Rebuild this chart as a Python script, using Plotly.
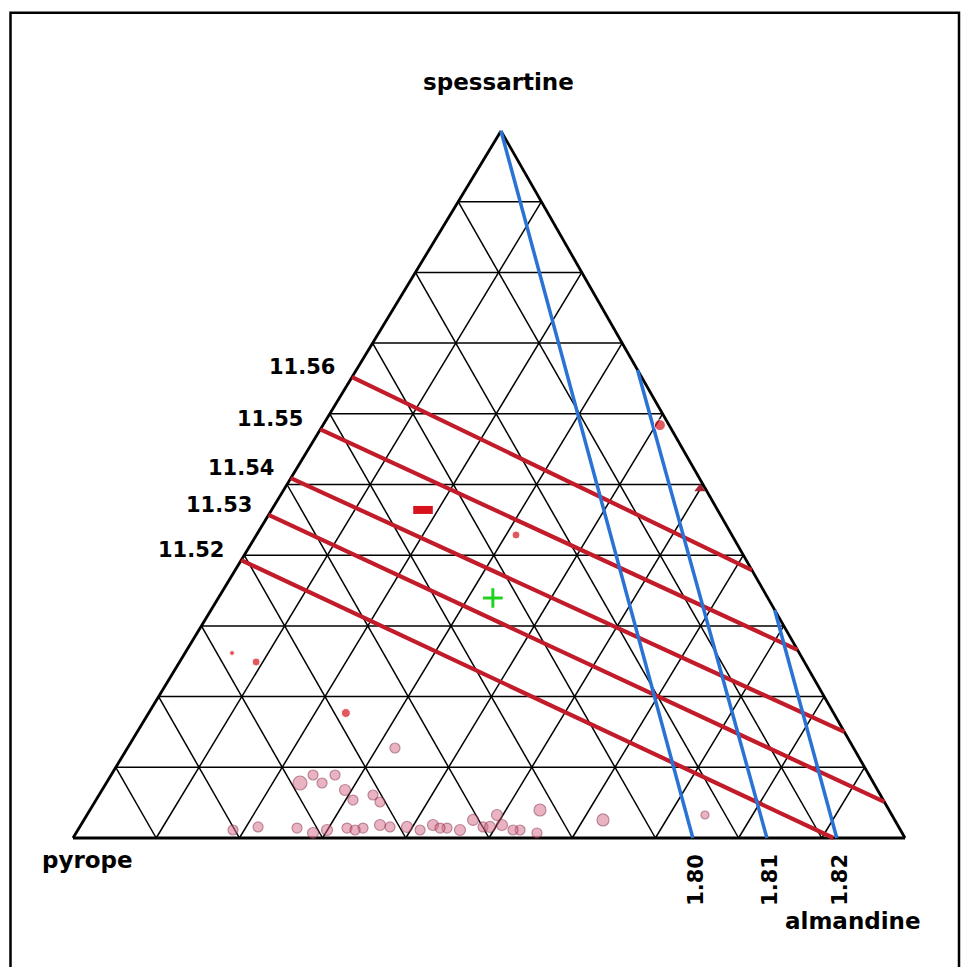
import plotly.graph_objects as go

# ---------------- data (ternary fractions: alm = almandine, sps = spessartine; pyrope = 1 - alm - sps)
grid_steps = [0.1, 0.2, 0.3, 0.4, 0.5, 0.6, 0.7, 0.8, 0.9]

# lattice-parameter isolines (red)
a0_labels = ["11.52", "11.53", "11.54", "11.55", "11.56"]
a0_start_sps = [0.393, 0.457, 0.509, 0.578, 0.652]      # on pyrope-spessartine edge (alm = 0)
a0_end_alm = [0.914, 0.949, 0.850, 0.734, 0.621]
a0_end_sps = [0.000, 0.051, 0.150, 0.266, 0.379]

# second isolines (blue)
b_labels = ["1.80", "1.81", "1.82"]
b_start_alm = [0.000, 0.338, 0.6775]
b_start_sps = [1.000, 0.662, 0.3225]
b_end_alm = [0.745, 0.834, 0.918]                      # on pyrope-almandine edge (sps = 0)

# red analyses
red_alm = [0.405, 0.312, 0.0565, 0.092, 0.237]
red_sps = [0.584, 0.4286, 0.2617, 0.249, 0.1768]
red_size = [11, 8, 5, 8, 9]
red_tri_alm = [0.4995]
red_tri_sps = [0.494]
red_bar_alm = [0.182]
red_bar_sps = [0.464]

# green cross
green_alm = [0.330]
green_sps = [0.3395]

# pink analyses near the pyrope-almandine join
pink_alm = [0.2328, 0.2427, 0.2593, 0.2691, 0.2920, 0.3089, 0.3293, 0.3428, 0.3215,
            0.1865, 0.2144, 0.2848, 0.2995, 0.3221, 0.3413, 0.3595, 0.3730, 0.3934,
            0.4113, 0.4232, 0.4423, 0.4593, 0.4677, 0.4848, 0.4929, 0.5061, 0.5315,
            0.5409, 0.5540, 0.6239, 0.7429, 0.2620, 0.3332, 0.4339, 0.4932, 0.5230]
pink_sps = [0.0778, 0.0891, 0.0778, 0.0891, 0.0679, 0.0537, 0.0608, 0.0509, 0.1273,
            0.0113, 0.0156, 0.0071, 0.0113, 0.0141, 0.0141, 0.0184, 0.0156, 0.0156,
            0.0113, 0.0184, 0.0141, 0.0113, 0.0255, 0.0156, 0.0325, 0.0184, 0.0113,
            0.0396, 0.0071, 0.0255, 0.0325, 0.0141, 0.0113, 0.0141, 0.0156, 0.0113]
pink_size = [14, 10, 10, 10, 11, 10, 10, 10, 10,
             10, 10, 11, 11, 10, 10, 11, 10, 11,
             10, 11, 10, 11, 11, 10, 11, 11, 10,
             12, 10, 12, 8, 10, 10, 10, 11, 10]

# ---------------- geometry of the drawing (pixels of the page)
W, H = 966, 967
LEFT_PX, RIGHT_PX, BASE_PY, APEX_PX, APEX_PY = 73, 905, 838, 501, 131
SPAN = RIGHT_PX - LEFT_PX
HEIGHT = BASE_PY - APEX_PY
SHIFT = (APEX_PX - LEFT_PX) / SPAN


def tx(alm, sps):
    return [a + SHIFT * s for a, s in zip(alm, sps)]


def seg_trace(segs, color, width):
    xs, ys = [], []
    for (a1, s1, a2, s2) in segs:
        xs += tx([a1, a2], [s1, s2]) + [None]
        ys += [s1, s2, None]
    return go.Scatter(x=xs, y=ys, mode="lines", line=dict(color=color, width=width),
                      hoverinfo="skip", showlegend=False)


fig = go.Figure()

# grid
grid = []
for f in grid_steps:
    grid.append((0, f, 1 - f, f))          # constant spessartine
    grid.append((f, 0, f, 1 - f))          # constant almandine
    grid.append((1 - f, 0, 0, 1 - f))      # constant pyrope
fig.add_trace(seg_trace(grid, "black", 1.5))

# outline
fig.add_trace(seg_trace([(0, 0, 1, 0), (1, 0, 0, 1), (0, 1, 0, 0)], "black", 2.8))

# red isolines
fig.add_trace(seg_trace([(0, s, a2, s2) for s, a2, s2 in zip(a0_start_sps, a0_end_alm, a0_end_sps)],
                        "#c21c2a", 4.2))
# blue isolines
fig.add_trace(seg_trace([(a1, s1, a2, 0) for a1, s1, a2 in zip(b_start_alm, b_start_sps, b_end_alm)],
                        "#2a72d4", 3.5))

# pink analyses
fig.add_trace(go.Scatter(x=tx(pink_alm, pink_sps), y=pink_sps, mode="markers",
                         marker=dict(size=pink_size, color="rgba(212,105,135,0.72)",
                                     line=dict(color="rgba(135,40,70,0.75)", width=1.2)),
                         hoverinfo="skip", showlegend=False))
# red analyses
fig.add_trace(go.Scatter(x=tx(red_alm, red_sps), y=red_sps, mode="markers",
                         marker=dict(size=red_size, color="#d8121c"),
                         hoverinfo="skip", showlegend=False))
fig.add_trace(go.Scatter(x=tx(red_tri_alm, red_tri_sps), y=red_tri_sps, mode="markers",
                         marker=dict(size=10, color="#a82432", symbol="triangle-up"),
                         hoverinfo="skip", showlegend=False))
fig.add_trace(go.Scatter(x=tx(red_bar_alm, red_bar_sps), y=red_bar_sps, mode="markers",
                         marker=dict(size=14, symbol="line-ew",
                                     line=dict(color="#d8121c", width=8)),
                         hoverinfo="skip", showlegend=False))
# green cross
fig.add_trace(go.Scatter(x=tx(green_alm, green_sps), y=green_sps, mode="markers",
                         marker=dict(size=14, symbol="cross-thin",
                                     line=dict(color="#1ed21e", width=3)),
                         hoverinfo="skip", showlegend=False))

ann = []
FONT_W = dict(family="DejaVu Sans", size=23, color="black")
FONT_N = dict(family="DejaVu Sans", size=21, color="black")

# vertex labels
ann.append(dict(x=0, y=0, text="<b>pyrope</b>", xshift=14, yshift=-22, font=FONT_W))
ann.append(dict(x=1, y=0, text="<b>almandine</b>", xshift=-52, yshift=-83, font=FONT_W))
ann.append(dict(x=SHIFT, y=1, text="<b>spessartine</b>", xshift=-3, yshift=49, font=FONT_W))

# isoline labels
for lab, s in zip(a0_labels, a0_start_sps):
    ann.append(dict(x=SHIFT * s, y=s, text="<b>%s</b>" % lab, xanchor="right",
                    xshift=-15, yshift=10, font=FONT_N))
for lab, a in zip(b_labels, b_end_alm):
    ann.append(dict(x=a, y=0, text="<b>%s</b>" % lab, textangle=-90,
                    xshift=3, yshift=-42, font=FONT_N))

for a in ann:
    a.setdefault("xanchor", "center")
    a.update(xref="x", yref="y", showarrow=False, yanchor="middle")

fig.update_layout(
    width=W, height=H, autosize=False,
    margin=dict(l=0, r=0, t=0, b=0, pad=0),
    paper_bgcolor="white", plot_bgcolor="white",
    xaxis=dict(range=[-LEFT_PX / SPAN, (W - LEFT_PX) / SPAN], visible=False, fixedrange=True),
    yaxis=dict(range=[-(H - BASE_PY) / HEIGHT, BASE_PY / HEIGHT], visible=False, fixedrange=True),
    annotations=ann,
    shapes=[dict(type="rect", xref="paper", yref="paper",
                 x0=10.5 / W, x1=959 / W, y0=-0.05, y1=1 - 12.8 / H,
                 line=dict(color="black", width=2.5))],
    showlegend=False,
)

fig.write_html("out.html")
